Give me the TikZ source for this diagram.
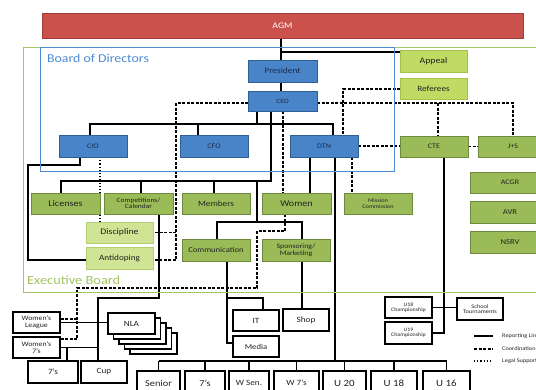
\documentclass[tikz,border=0pt]{standalone}
\usepackage{fontspec}
\setmainfont{Carlito}[FakeStretch=1.15]
\usetikzlibrary{calc}
\pgfdeclarelayer{bg}
\pgfdeclarelayer{paper}
\pgfsetlayers{paper,bg,main}
\definecolor{blueA}{HTML}{4A84C8}
\definecolor{blueB}{HTML}{2F5F96}
\definecolor{navyT}{HTML}{1A2A48}
\definecolor{greenA}{HTML}{9BBB59}
\definecolor{greenB}{HTML}{6E8B3D}
\definecolor{limeA}{HTML}{BFDB63}
\definecolor{limeB}{HTML}{A3C24C}
\definecolor{paleA}{HTML}{CFE494}
\definecolor{paleB}{HTML}{B3CF74}
\definecolor{redA}{HTML}{CB514C}
\definecolor{redB}{HTML}{A33B38}
\definecolor{darkT}{HTML}{222222}
\definecolor{frameB}{HTML}{4F8BD0}
\definecolor{frameG}{HTML}{A5C463}
\begin{document}
\begin{tikzpicture}[x=1pt,y=-1pt,
  sz/.style 2 args={minimum width=#1pt,minimum height=#2pt},
  fs/.style={font=\fontsize{#1}{#1}\selectfont},
  basebox/.style={inner sep=0pt,outer sep=0pt,align=center,fs=7.5},
  bbox/.style={basebox,draw=blueB,fill=blueA,line width=0.8pt,text=navyT},
  gbox/.style={basebox,draw=greenB,fill=greenA,line width=0.8pt,text=darkT},
  lbox/.style={basebox,draw=limeB,fill=limeA,line width=0.6pt,text=darkT},
  pbox/.style={basebox,draw=paleB,fill=paleA,line width=0.6pt,text=darkT},
  kbox/.style={basebox,draw=black,fill=white,line width=1.8pt,text=darkT},
  rep/.style={line width=1.3pt,black},
  coordl/.style={line width=1.3pt,black,dash pattern=on 3pt off 1.5pt},
  legal/.style={line width=1.3pt,black,dash pattern=on 1.2pt off 2pt},
]
\useasboundingbox (0,0) rectangle (536,389);
\clip (0,0) rectangle (536,389);
\begin{pgfonlayer}{paper}
\fill[white] (0,0) rectangle (536,389);
\end{pgfonlayer}

% frames
\draw[frameG,line width=1pt] (23,47) rectangle (560,292);
\draw[frameB,line width=1pt] (40,47) rectangle (394,171);
\node[anchor=west,inner sep=0pt,fs=12,text=frameB] (bodlab) at (47,58) {Board of Directors};
\node[anchor=west,inner sep=0pt,fs=12.5,text=frameG] (eblab) at (27,280) {Executive Board};

% top
\node[basebox,draw=redB,fill=redA,line width=0.8pt,text=white,fs=8.5,sz={481}{25}] (agm) at (282.5,25.5) {AGM};
\node[bbox,sz={69}{22},fs=8.2] (pres) at (282.5,71) {President};
\node[bbox,sz={69}{20},fs=6.5] (ceo) at (282.5,101) {CEO};
\node[bbox,sz={68}{22},fs=7] (cio) at (93,146) {CIO};
\node[bbox,sz={68}{22},fs=7] (cfo) at (214,146) {CFO};
\node[bbox,sz={68}{22},fs=7] (dtn) at (324,146) {DTN};
\node[gbox,sz={68}{21},fs=7] (cte) at (434,146.5) {CTE};
\node[gbox,sz={70}{21},fs=7] (js) at (513,146.5) {J+S};
\node[gbox,sz={80}{21},fs=7] (acgr) at (510,182.5) {ACGR};
\node[gbox,sz={80}{22},fs=7.5] (avr) at (510,212) {AVR};
\node[gbox,sz={80}{22},fs=7.5] (nsrv) at (510,242) {NSRV};
\node[lbox,sz={67}{22},fs=8.5] (appeal) at (433.5,61) {Appeal};
\node[lbox,sz={67}{21},fs=8] (referees) at (433.5,88.5) {Referees};

% green row
\node[gbox,sz={69}{21},fs=8.8] (lic) at (65.5,203.5) {Licenses};
\node[gbox,sz={69}{21},fs=6.5] (comp) at (138.5,203.5) {Competitions/\\Calendar};
\node[gbox,sz={68}{21},fs=8] (memb) at (216,203.5) {Members};
\node[gbox,sz={69}{21},fs=8.8] (women) at (296.5,203.5) {Women};
\node[gbox,sz={68}{21},fs=5.5] (mission) at (378,203.5) {Mission\\Commission};
\node[pbox,sz={67}{21},fs=8.5] (disc) at (119.5,232.5) {Discipline};
\node[pbox,sz={67}{22},fs=8] (anti) at (119.5,258) {Antidoping};
\node[gbox,sz={68}{22},fs=7.5] (comm) at (216,250) {Communication};
\node[gbox,sz={68}{22},fs=6.8] (spons) at (296,250) {Sponsoring/\\Marketing};

% black boxes
\node[kbox,sz={47}{21},fs=6.8] (wleague) at (36.5,322.5) {Women's\\League};
\node[kbox,sz={47}{21},fs=6.8] (wsevl) at (36.5,347.5) {Women's\\7's};
\node[kbox,sz={50}{22},fs=8] (sevl) at (53,372) {7's};
\node[kbox,sz={46}{22},fs=8] (cup) at (104,372) {Cup};
\foreach \k in {4,3,2,1}{
  \node[kbox,sz={47}{21}] (nla\k) at ({131.5+5.5*\k},{323.5+5*\k}) {};
}
\node[kbox,sz={47}{21},fs=8] (nla) at (131.5,323.5) {NLA};
\node[kbox,sz={46}{21},fs=8] (it) at (256,320.5) {IT};
\node[kbox,sz={46}{22},fs=8] (shop) at (306,320) {Shop};
\node[kbox,sz={46}{21},fs=7.5] (media) at (256,346.5) {Media};
\node[kbox,sz={47}{21},fs=5.2] (uch) at (408.5,307.5) {U18\\Championship};
\node[kbox,sz={47}{22},fs=5.2] (uchb) at (408.5,333) {U19\\Championship};
\node[kbox,sz={46}{22},fs=5.5] (school) at (480,309) {School\\Tournaments};
\node[kbox,sz={43}{24},fs=9] (senior) at (158.5,383) {Senior};
\node[kbox,sz={40}{24},fs=9] (bsev) at (205,383) {7's};
\node[kbox,sz={40}{24},fs=8] (wsen) at (249,383) {W Sen.};
\node[kbox,sz={45}{24},fs=8] (wsev) at (296.5,383) {W 7's};
\node[kbox,sz={43}{24},fs=9.5] (uxx) at (344.5,383) {U 20};
\node[kbox,sz={46}{24},fs=9.5] (uxviii) at (394,383) {U 18};
\node[kbox,sz={47}{24},fs=9.5] (uxvi) at (446.5,383) {U 16};

% legend
\coordinate (lg1a) at (474,336); \coordinate (lg1b) at (493,336);
\coordinate (lg2a) at (474,349); \coordinate (lg2b) at (493,349);
\coordinate (lg3a) at (474,361); \coordinate (lg3b) at (493,361);
\node[anchor=west,inner sep=0pt,fs=5.5,text=darkT] (lt1) at (502,336) {Reporting Line};
\node[anchor=west,inner sep=0pt,fs=5.5,text=darkT] (lt2) at (502,349) {Coordination};
\node[anchor=west,inner sep=0pt,fs=5.5,text=darkT] (lt3) at (502,361) {Legal Support};

% helper coordinates
\coordinate (ag) at (281,52);
\coordinate (ba1) at (90,124);
\coordinate (ba2) at (333,124);
\coordinate (bc) at (257,124);
\coordinate (cf) at (198,124);
\coordinate (bg1) at (61,181);
\coordinate (bg2) at (271,181);
\coordinate (bgc) at (141,181);
\coordinate (bgm) at (214,181);
\coordinate (bgk) at (257,181);
\coordinate (bk) at (257,222);
\coordinate (bk1) at (217,222);
\coordinate (bk2) at (302,222);
\coordinate (dw) at (310,0);
\coordinate (bb) at (335,361);
\coordinate (ci1) at (80,165);
\coordinate (ci2) at (28,165);
\coordinate (ci3) at (28,260);
\coordinate (cc1) at (159,298);
\coordinate (cc2) at (98,298);
\coordinate (s7) at (67,0);
\coordinate (cm) at (227,343);
\coordinate (cmi) at (227,298);
\coordinate (cmj) at (263,298);
\coordinate (ct1) at (444,333);
\coordinate (dl1) at (176,103);
\coordinate (dl2) at (176,232.5);
\coordinate (dl3) at (176,260);
\coordinate (dr1) at (513,103);
\coordinate (dr2) at (438,103);
\coordinate (dw2) at (283,0);
\coordinate (rf) at (343,89);
\coordinate (dm) at (352,0);
\coordinate (wd1) at (285,231);
\coordinate (wd2) at (257,231);
\coordinate (wd3) at (257,288);
\coordinate (wd4) at (77,288);
\coordinate (wd5) at (77,339);
\coordinate (wd6) at (77,319);
\coordinate (lgx) at (100,0);

\begin{pgfonlayer}{bg}
% reporting lines
\draw[rep] (agm.south -| ag) -- (pres.north -| ag);
\draw[rep] (ag) -- (ag -| appeal.west);
\draw[rep] (pres.south -| ag) -- (ceo.north -| ag);
\draw[rep] (cio.north -| ba1) -- (ba1) -- (ba2) -- (dtn.north -| ba2);
\draw[rep] (ceo.south -| bc) -- (bc);
\draw[rep] (cf) -- (cfo.north -| cf);
\draw[rep] (ceo.south -| bg2) -- (bg2) -- (bg1) -- (lic.north -| bg1);
\draw[rep] (bgc) -- (comp.north -| bgc);
\draw[rep] (bgm) -- (memb.north -| bgm);
\draw[rep] (bgk) -- (bk);
\draw[rep] (comm.north -| bk1) -- (bk1) -- (bk2) -- (spons.north -| bk2);
\draw[rep] (dtn.south -| dw) -- (women.north -| dw);
\draw[rep] (dtn.south -| bb) -- (bb);
\draw[rep] (senior.north |- bb) -- (uxvi.north |- bb);
\foreach \n in {senior,bsev,wsen,wsev,uxx,uxviii,uxvi}{
  \draw[rep] (\n.north |- bb) -- (\n.north);
}
\draw[rep] (cio.south -| ci1) -- (ci1) -- (ci2) -- (ci3) -- (ci3 -| anti.west);
\draw[rep] (comp.south -| cc1) -- (cc1) -- (cc2) -- (cup.north -| cc2);
\draw[rep] (wleague.east) -- (wleague.east -| nla.west);
\draw[rep] (wsevl.east) -- (wsevl.east -| cc2);
\draw[rep] (wsevl.east -| s7) -- (sevl.north -| s7);
\draw[rep] (comm.south -| cm) -- (cm) -- (cm -| media.west);
\draw[rep] (cmi) -- (cmj) -- (it.north -| cmj);
\draw[rep] (spons.south -| bk2) -- (shop.north -| bk2);
\draw[rep] (cte.south -| ct1) -- (ct1) -- (ct1 -| uchb.east);
\draw[rep] (uch.east) -- (uch.east -| school.west);
% coordination
\draw[coordl] (ceo.west |- dl1) -- (dl1) -- (dl3) -- (dl3 -| anti.east);
\draw[coordl] (dl2) -- (dl2 -| disc.east);
\draw[coordl] (ceo.east |- dr1) -- (dr1) -- (js.north -| dr1);
\draw[coordl] (dr2) -- (cte.north -| dr2);
\draw[coordl] (ceo.south -| dw2) -- (women.north -| dw2);
\draw[coordl] (referees.west |- rf) -- (rf) -- (dtn.north -| rf);
\draw[coordl] (dtn.south -| dm) -- (mission.north -| dm);
\draw[coordl] (dtn.east) -- (dtn.east -| cte.west);
\draw[coordl] (cte.east) -- (cte.east -| js.west);
\draw[coordl] (women.south -| wd1) -- (wd1) -- (wd2) -- (wd3) -- (wd4) -- (wd5) -- (wd5 -| wsevl.east);
\draw[coordl] (wd6) -- (wd6 -| wleague.east);
% legal
\draw[legal] (cio.south -| lgx) -- (disc.north -| lgx);
% legend
\draw[rep,line width=1.6pt] (lg1a) -- (lg1b);
\draw[coordl,line width=1.6pt] (lg2a) -- (lg2b);
\draw[legal,line width=1.6pt] (lg3a) -- (lg3b);
\end{pgfonlayer}
\end{tikzpicture}
\end{document}
